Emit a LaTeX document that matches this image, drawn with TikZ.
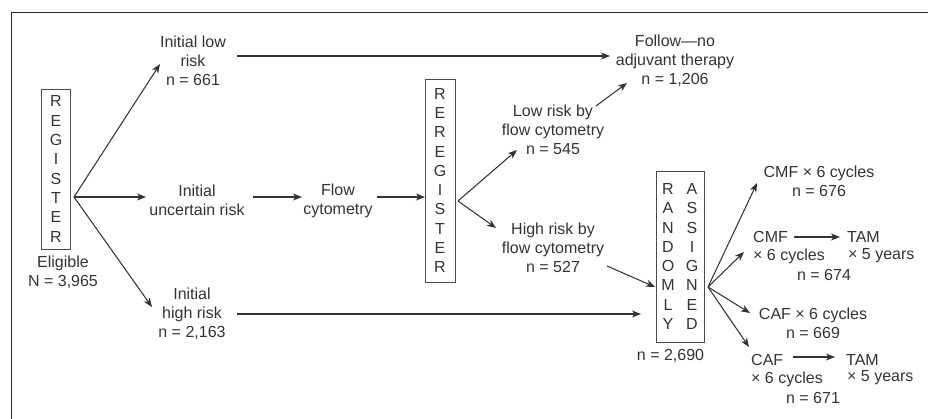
\documentclass[tikz,border=0pt]{standalone}
\usepackage{fontspec}
\setmainfont{Liberation Sans}
\usetikzlibrary{arrows.meta}
\definecolor{ink}{HTML}{333333}
\definecolor{boxline}{HTML}{4a4a4a}
\begin{document}
\begin{tikzpicture}[x=1pt,y=-1pt,
  txt/.style={align=center, font=\fontsize{16}{19}\selectfont, text=ink, inner sep=0pt},
  ltxt/.style={anchor=west, font=\fontsize{16}{19}\selectfont, text=ink, inner sep=0pt},
  letters/.style={align=center, font=\fontsize{16}{19.3}\selectfont, text=ink, inner sep=0pt},
  vbox/.style={draw=boxline, line width=0.8pt, align=center, font=\fontsize{16}{19.3}\selectfont, text=ink, inner sep=0pt},
  arr/.style={draw=ink, line width=1.05pt, -{Stealth[length=9pt,width=7pt,inset=2.5pt]}},
  frameline/.style={draw=ink!80!black, line width=1.7pt}]
\useasboundingbox (0,0) rectangle (928,419);
\draw[frameline] (11.5,419) -- (11.5,12.5) -- (928,12.5);

% first stage
\node[vbox, minimum width=29, minimum height=160] (reg) at (56,169) {R\\E\\G\\I\\S\\T\\E\\R};
\node[txt] (elig) at (63,272) {Eligible\\N = 3,965};
\node[txt] (low) at (193,61) {Initial low\\risk\\n = 661};
\node[txt] (unc) at (197,200) {Initial\\uncertain risk};
\node[txt] (high) at (192,314) {Initial\\high risk\\n = 2,163};
\node[txt] (flow) at (338,201) {Flow\\cytometry};

% reregistration
\node[vbox, minimum width=30, minimum height=203] (rereg) at (440,180.5) {R\\E\\R\\E\\G\\I\\S\\T\\E\\R};
\node[txt] (lowfc) at (553,130) {Low risk by\\flow cytometry\\n = 545};
\node[txt] (highfc) at (553,248) {High risk by\\flow cytometry\\n = 527};
\node[txt] (follow) at (675,61) {Follow—no\\adjuvant therapy\\n = 1,206};

% randomisation
\node[draw=boxline, line width=0.8pt, minimum width=48, minimum height=171, inner sep=0pt] (rand) at (680,256.5) {};
\node[letters] (randL) at (668,256.5) {R\\A\\N\\D\\O\\M\\L\\Y};
\node[letters] (randR) at (692,256.5) {A\\S\\S\\I\\G\\N\\E\\D};
\node[txt] (randn) at (670.5,356) {n = 2,690};

% arms
\node[txt] (cmf6) at (819,181) {CMF × 6 cycles\\n = 676};
\node[ltxt] (cmfA) at (753,237) {CMF};
\node[ltxt] (cmfB) at (753,256) {× 6 cycles};
\node[ltxt] (tamA) at (847,237) {TAM};
\node[ltxt] (tamB) at (848,256) {× 5 years};
\node[txt] (n674) at (824,275) {n = 674};
\node[txt] (caf6) at (813,323) {CAF × 6 cycles\\n = 669};
\node[ltxt] (cafA) at (751,360) {CAF};
\node[ltxt] (cafB) at (751,379) {× 6 cycles};
\node[ltxt] (tamC) at (846,360) {TAM};
\node[ltxt] (tamD) at (847,378) {× 5 years};
\node[txt] (n671) at (813,398) {n = 671};

% connector end points
\coordinate (regfan) at (74,197);
\coordinate (lowin) at (160,64);
\coordinate (uncin) at (146,197);
\coordinate (highin) at (152,307);
\coordinate (lowout) at (237,56);
\coordinate (followin) at (610,56);
\coordinate (uncout) at (253,197);
\coordinate (flowin) at (302,197);
\coordinate (flowout) at (377,197);
\coordinate (rereglin) at (425,197);
\coordinate (reregfan) at (458,201);
\coordinate (lowfcin) at (517,150);
\coordinate (highfcin) at (496,228);
\coordinate (lowfcout) at (596,106);
\coordinate (followin2) at (627,83);
\coordinate (highfcout) at (607,266);
\coordinate (randin) at (655,287);
\coordinate (highout) at (237,314);
\coordinate (randin2) at (641,314);
\coordinate (randfan) at (708,287);
\coordinate (cmf6in) at (757,183);
\coordinate (cmfin) at (744,252);
\coordinate (caf6in) at (750,313);
\coordinate (cafin) at (749,347);

\draw[arr] (regfan) -- (lowin);
\draw[arr] (regfan) -- (uncin);
\draw[arr] (regfan) -- (highin);
\draw[arr] (lowout) -- (followin);
\draw[arr] (uncout) -- (flowin);
\draw[arr] (flowout) -- (rereglin);
\draw[arr] (reregfan) -- (lowfcin);
\draw[arr] (reregfan) -- (highfcin);
\draw[arr] (lowfcout) -- (followin2);
\draw[arr] (highfcout) -- (randin);
\draw[arr] (highout) -- (randin2);
\draw[arr] (randfan) -- (cmf6in);
\draw[arr] (randfan) -- (cmfin);
\draw[arr] (randfan) -- (caf6in);
\draw[arr] (randfan) -- (cafin);
\draw[arr] ([xshift=6]cmfA.east) -- ([xshift=-7]tamA.west);
\draw[arr] ([xshift=10,yshift=3]cafA.east) -- ([xshift=-11,yshift=3]tamC.west);
\end{tikzpicture}
\end{document}
